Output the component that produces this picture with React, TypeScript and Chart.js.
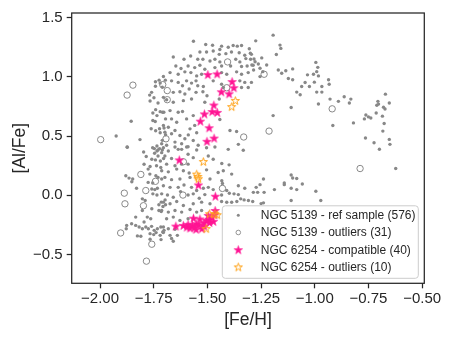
import React, { useEffect, useRef } from 'react';
import { Chart, registerables } from 'chart.js';

Chart.register(...registerables);

const xTicks = [-2.0, -1.75, -1.5, -1.25, -1.0, -0.75, -0.5];
const yTicks = [-0.5, 0.0, 0.5, 1.0, 1.5];
const xTitle = '[Fe/H]';
const yTitle = '[Al/Fe]';
const legendLabels = [
  'NGC 5139 - ref sample (576)',
  'NGC 5139 - outliers (31)',
  'NGC 6254 - compatible (40)',
  'NGC 6254 - outliers (10)',
];

// NGC 5139 reference sample ([Fe/H], [Al/Fe])
const refSample: [number, number][] = [
  [-1.742,0.958],[-1.725,0.972],[-1.72,0.947],[-1.696,0.972],[-1.742,0.92],[-1.71,0.912],[-1.76,0.869],[-1.769,0.846],[-1.749,0.824],[-1.767,0.796],[-1.73,0.779],[-1.69,0.807],[-1.741,0.723],[-1.72,0.706],[-1.703,0.701],[-1.754,0.695],[-1.735,0.673],[-1.754,0.631],[-1.743,0.623],[-1.695,0.645],[-1.855,0.625],[-1.762,0.562],[-1.741,0.545],[-1.723,0.562],[-1.702,0.568],[-1.72,0.528],[-1.695,0.511],[-1.925,0.5],[-1.814,0.47],[-1.71,0.464],[-1.735,0.416],[-1.873,0.405],[-1.747,0.394],[-1.73,0.383],[-1.71,0.383],
  [-1.874,0.408],[-1.755,0.402],[-1.735,0.374],[-1.723,0.394],[-1.797,0.366],[-1.746,0.355],[-1.713,0.36],[-1.785,0.327],[-1.73,0.332],[-1.759,0.304],[-1.742,0.299],[-1.719,0.29],[-1.704,0.31],[-1.795,0.262],[-1.767,0.243],[-1.737,0.249],[-1.717,0.235],[-1.776,0.221],[-1.88,0.165],[-1.865,0.145],[-1.848,0.137],[-1.852,0.114],[-1.768,0.179],[-1.74,0.165],[-1.73,0.151],[-1.713,0.137],[-1.776,0.109],[-1.755,0.104],[-1.83,0.059],[-1.759,0.053],[-1.745,0.048],[-1.733,0.059],[-1.754,0.012],[-1.735,0.003],[-1.697,-0.039],[-1.803,-0.03],[-1.79,-0.044],[-1.715,-0.058],[-1.726,-0.08],[-1.707,-0.095],[-1.695,-0.08],[-1.759,-0.114],[-1.726,-0.128],[-1.715,-0.137],[-1.803,-0.128],[-1.834,-0.184],[-1.78,-0.184],[-1.764,-0.198],[-1.795,-0.226],[-1.876,-0.254],[-1.853,-0.24],[-1.834,-0.254],[-1.818,-0.268],[-1.803,-0.282],[-1.787,-0.268],[-1.775,-0.282],[-1.76,-0.262],[-1.748,-0.296],[-1.733,-0.282],[-1.717,-0.268],[-1.702,-0.296],[-1.878,-0.282],[-1.826,-0.343],[-1.81,-0.346],[-1.767,-0.324],[-1.75,-0.332],[-1.739,-0.315],[-1.72,-0.338],[-1.708,-0.31],[-1.767,-0.371],[-1.716,-0.374],
  [-1.565,1.301],[-1.508,1.273],[-1.476,1.267],[-1.434,1.259],[-1.442,1.231],[-1.403,1.25],[-1.38,1.264],[-1.361,1.259],[-1.341,1.264],[-1.305,1.237],[-1.535,1.21],[-1.504,1.21],[-1.473,1.218],[-1.445,1.19],[-1.414,1.196],[-1.388,1.21],[-1.352,1.204],[-1.326,1.182],[-1.295,1.19],[-1.659,1.168],[-1.609,1.148],[-1.578,1.176],[-1.545,1.148],[-1.521,1.148],[-1.488,1.134],[-1.465,1.148],[-1.442,1.126],[-1.368,1.148],[-1.349,1.126],[-1.321,1.154],[-1.299,1.148],[-1.647,1.092],[-1.623,1.07],[-1.59,1.092],[-1.559,1.078],[-1.535,1.098],[-1.512,1.064],[-1.465,1.078],[-1.434,1.092],[-1.392,1.092],[-1.341,1.087],[-1.315,1.092],[-1.287,1.098],[-1.705,1.003],[-1.674,1.036],[-1.636,1.022],[-1.605,1.042],[-1.577,1.036],[-1.55,1.008],[-1.527,1.022],[-1.434,1.036],[-1.41,1.022],[-1.364,1.042],[-1.341,1.022],[-1.31,1.036],[-1.667,0.966],[-1.636,0.953],[-1.616,0.925],[-1.597,0.966],[-1.574,0.947],[-1.553,0.966],[-1.545,0.925],[-1.519,0.919],[-1.473,0.966],[-1.434,0.938],[-1.349,0.966],[-1.326,0.953],[-1.295,0.953],[-1.659,0.869],[-1.628,0.874],[-1.605,0.855],[-1.585,0.897],[-1.553,0.869],[-1.521,0.874],[-1.502,0.841],[-1.426,0.91],[-1.341,0.91],[-1.31,0.91],[-1.705,0.827],[-1.659,0.785],[-1.612,0.799],[-1.574,0.813],[-1.512,0.785],[-1.445,0.813],[-1.709,0.701],[-1.674,0.715],[-1.636,0.701],[-1.616,0.707],[-1.667,0.645],[-1.643,0.617],[-1.597,0.645],[-1.566,0.673],[-1.442,0.64],[-1.705,0.59],[-1.682,0.575],[-1.651,0.547],[-1.581,0.561],[-1.559,0.59],[-1.698,0.533],[-1.667,0.519],[-1.628,0.505],[-1.589,0.51],[-1.55,0.528],[-1.395,0.547],[-1.364,0.538],[-1.713,0.435],[-1.69,0.422],[-1.651,0.449],[-1.62,0.435],[-1.597,0.408],[-1.566,0.463],[-1.543,0.422],[-1.333,0.38],[-1.636,0.388],[-1.605,0.477],
  [-1.705,0.402],[-1.682,0.374],[-1.651,0.408],[-1.62,0.388],[-1.59,0.41],[-1.55,0.383],[-1.504,0.402],[-1.465,0.408],[-1.698,0.332],[-1.667,0.31],[-1.59,0.346],[-1.566,0.318],[-1.496,0.332],[-1.473,0.304],[-1.69,0.263],[-1.651,0.249],[-1.62,0.263],[-1.59,0.263],[-1.713,0.207],[-1.682,0.198],[-1.643,0.221],[-1.612,0.207],[-1.585,0.188],[-1.504,0.215],[-1.45,0.193],[-1.698,0.151],[-1.667,0.132],[-1.628,0.137],[-1.581,0.151],[-1.488,0.137],[-1.705,0.081],[-1.674,0.067],[-1.636,0.067],[-1.609,0.087],[-1.574,0.067],[-1.55,0.04],[-1.519,0.059],[-1.496,0.067],[-1.473,0.048],[-1.713,0.012],[-1.686,0.003],[-1.659,-0.016],[-1.625,0.031],[-1.59,0.003],[-1.566,0.012],[-1.538,-0.025],[-1.512,0.006],[-1.434,0.003],[-1.705,-0.058],[-1.674,-0.072],[-1.643,-0.053],[-1.612,-0.086],[-1.566,-0.072],[-1.527,-0.058],[-1.488,-0.072],[-1.434,-0.053],[-1.713,-0.128],[-1.682,-0.142],[-1.651,-0.128],[-1.62,-0.142],[-1.581,-0.12],[-1.55,-0.142],[-1.527,-0.128],[-1.69,-0.198],[-1.659,-0.184],[-1.628,-0.212],[-1.59,-0.198],[-1.705,-0.268],[-1.682,-0.282],[-1.651,-0.287],[-1.705,-0.315],[-1.674,-0.338],[-1.667,-0.365],[-1.64,-0.338],[-1.659,-0.388],
  [-1.403,0.388],[-1.356,0.081],[-1.326,0.059],[-1.41,0.04],
  [-1.275,1.304],[-1.194,1.352],[-1.162,1.268],[-1.158,1.24],[-1.179,1.189],[-1.30,1.20],[-1.283,1.151],[-1.278,1.128],[-1.263,1.108],[-1.247,1.16],[-1.293,1.10],[-1.285,1.058],[-1.255,1.072],[-1.242,1.044],[-1.255,1.002],[-1.224,1.10],[-1.17,1.058],[-1.154,1.03],[-1.135,1.052],[-1.103,1.067],[-1.123,0.986],[-1.103,0.975],[-1.084,0.871],[-1.068,0.849],[-1.061,0.919],[-1.045,0.952],[-1.025,0.919],[-1.034,1.017],[-1.006,1.022],[-0.995,1.122],[-0.986,1.08],[-0.991,1.044],[-0.983,1.008],[-1.002,0.955],[-0.991,0.871],[-0.967,0.919],[-0.967,0.871],[-0.936,0.975],[-0.933,0.938],[-0.983,0.771],[-0.929,0.812],[-0.89,0.793],[-0.863,0.832],[-0.839,0.779],[-0.832,0.812],[-1.11,0.741],[-1.194,0.673],[-0.916,0.589],[-0.82,0.611],[-0.769,0.645],[-0.762,0.678],[-0.75,0.662],[-0.739,0.653],[-0.714,0.695],[-0.711,0.76],[-0.706,0.793],[-0.703,0.77],[-0.68,0.743],[-0.673,0.729],[-0.671,0.854],[-0.653,0.779],[-0.685,0.668],[-0.677,0.606],[-0.683,0.542],[-0.764,0.484],[-0.724,0.444],[-0.699,0.389],[-0.653,0.472],[-0.65,0.43],
  [-1.356,0.43],[-0.623,0.226],[-1.433,0.268],[-1.399,0.257],[-1.426,0.207],[-1.387,0.179],[-1.239,0.137],[-1.11,0.171],[-1.103,0.146],[-1.084,0.142],[-1.142,0.104],[-1.142,0.09],[-1.058,0.095],[-1.255,0.09],[-1.273,0.067],[-1.266,0.025],[-1.286,0.025],[-1.236,0.025],[-1.188,0.048],[-1.11,0.059],[-1.084,0.048],[-0.995,0.034],[-0.972,-0.044],[-1.11,-0.044],[-1.239,-0.064],[-1.25,-0.07],[-1.289,-0.053],[-1.309,-0.044],[-1.329,-0.039],[-1.345,-0.03],[-1.363,-0.053],[-1.387,-0.059],[-1.41,-0.059],[-1.376,0.012],[-1.356,0.006],[-1.398,0.017],[-1.433,0.123],[-1.43,0.10],
];

// NGC 5139 outliers
const refOutliers: [number, number][] = [
  [-1.847,0.93],[-1.874,0.846],[-1.997,0.47],[-1.708,0.934],[-1.687,0.884],[-1.687,0.807],[-1.693,0.477],
  [-1.406,1.126],[-1.236,1.022],[-1.41,0.908],[-0.919,0.73],[-1.213,0.542],[-1.331,0.492],[-0.789,0.226],
  [-1.81,0.176],[-1.742,0.118],[-1.887,0.018],[-1.787,0.04],[-1.884,-0.072],[-1.798,-0.088],
  [-1.904,-0.318],[-1.759,-0.413],[-1.784,-0.556],[-1.612,0.283],[-1.43,0.058],[-1.614,0.002],
];

// NGC 6254 compatible stars
const compatible: [number, number][] = [
  [-1.498,1.019],[-1.455,1.025],[-1.385,0.96],[-1.377,0.908],[-1.435,0.874],[-1.399,0.857],[-1.47,0.762],
  [-1.478,0.707],[-1.454,0.70],[-1.514,0.687],[-1.533,0.626],[-1.492,0.57],[-1.502,0.456],[-1.469,0.483],
  [-1.631,0.299],[-1.542,0.087],[-1.463,-0.008],
  [-1.647,-0.26],[-1.612,-0.254],[-1.596,-0.268],[-1.581,-0.276],[-1.565,-0.193],[-1.553,-0.287],[-1.539,-0.248],
  [-1.526,-0.281],[-1.516,-0.231],[-1.503,-0.212],[-1.491,-0.204],[-1.48,-0.184],[-1.467,-0.164],[-1.472,-0.22],
  [-1.49,-0.23],[-1.55,-0.24],[-1.57,-0.25],[-1.59,-0.245],[-1.535,-0.20],[-1.496,-0.17],[-1.464,-0.128],
  [-1.515,-0.26],[-1.56,-0.27],
];

// NGC 6254 outliers
const outliers6254: [number, number][] = [
  [-1.37,0.80],[-1.387,0.749],[-1.519,0.285],[-1.55,0.179],[-1.545,0.159],[-1.542,0.14],
  [-1.49,-0.156],[-1.465,-0.156],[-1.454,-0.164],[-1.506,-0.281],
];

const GRAY = '#888888';
const PINK = '#ff1493';
const ORANGE = '#ffa31a';
const INK = '#262626';
const FONT = '"Liberation Sans", Arial, Helvetica, sans-serif';

function makeStar(r: number, fill: string | null, stroke: string | null, lw: number): HTMLCanvasElement {
  const size = Math.ceil(2 * r + 2 * lw + 2);
  const c = document.createElement('canvas');
  c.width = size;
  c.height = size;
  const ctx = c.getContext('2d')!;
  const cx = size / 2;
  const cy = size / 2 + r * 0.1;
  ctx.beginPath();
  for (let i = 0; i < 10; i++) {
    const ang = -Math.PI / 2 + (i * Math.PI) / 5;
    const rr = i % 2 === 0 ? r : r * 0.382;
    const px = cx + rr * Math.cos(ang);
    const py = cy + rr * Math.sin(ang);
    if (i === 0) ctx.moveTo(px, py);
    else ctx.lineTo(px, py);
  }
  ctx.closePath();
  if (fill) {
    ctx.fillStyle = fill;
    ctx.fill();
  }
  if (stroke) {
    ctx.strokeStyle = stroke;
    ctx.lineWidth = lw;
    ctx.lineJoin = 'miter';
    ctx.stroke();
  }
  return c;
}

const fmt = (v: number, d: number) => {
  const s = Math.abs(v).toFixed(d);
  return v < -1e-9 ? '\u2212' + s : s;
};

export default function App() {
  const ref = useRef<HTMLCanvasElement | null>(null);

  useEffect(() => {
    if (!ref.current) return;
    const pinkStar = makeStar(4.5, PINK, PINK, 0.6);
    const orangeStar = makeStar(4.3, null, ORANGE, 1.0);

    const framePlugin = {
      id: 'frameAndLegend',
      afterDraw(chart: any) {
        const { ctx, chartArea } = chart;
        const { left, right, top, bottom } = chartArea;
        ctx.save();
        ctx.strokeStyle = INK;
        ctx.lineWidth = 1.25;
        ctx.strokeRect(left, top, right - left, bottom - top);

        // legend box
        const bx = right - 202;
        const bw = 196;
        const by = bottom - 77.5;
        const bh = 72.5;
        const rad = 3;
        ctx.beginPath();
        ctx.moveTo(bx + rad, by);
        ctx.lineTo(bx + bw - rad, by);
        ctx.quadraticCurveTo(bx + bw, by, bx + bw, by + rad);
        ctx.lineTo(bx + bw, by + bh - rad);
        ctx.quadraticCurveTo(bx + bw, by + bh, bx + bw - rad, by + bh);
        ctx.lineTo(bx + rad, by + bh);
        ctx.quadraticCurveTo(bx, by + bh, bx, by + bh - rad);
        ctx.lineTo(bx, by + rad);
        ctx.quadraticCurveTo(bx, by, bx + rad, by);
        ctx.closePath();
        ctx.fillStyle = 'rgba(255,255,255,0.8)';
        ctx.fill();
        ctx.strokeStyle = '#cccccc';
        ctx.lineWidth = 1;
        ctx.stroke();

        const mx = bx + 16;
        const tx = bx + 38.5;
        ctx.font = '12px ' + FONT;
        ctx.textBaseline = 'middle';
        ctx.textAlign = 'left';
        legendLabels.forEach((label, i) => {
          const y = by + 9.5 + i * 17.2;
          if (i === 0) {
            ctx.beginPath();
            ctx.arc(mx, y, 1.5, 0, Math.PI * 2);
            ctx.fillStyle = GRAY;
            ctx.fill();
          } else if (i === 1) {
            ctx.beginPath();
            ctx.arc(mx, y, 2.3, 0, Math.PI * 2);
            ctx.strokeStyle = GRAY;
            ctx.lineWidth = 0.9;
            ctx.stroke();
          } else if (i === 2) {
            ctx.drawImage(pinkStar, mx - pinkStar.width / 2, y - pinkStar.height / 2);
          } else {
            ctx.drawImage(orangeStar, mx - orangeStar.width / 2, y - orangeStar.height / 2);
          }
          ctx.fillStyle = INK;
          ctx.fillText(label, tx, y + 0.5);
        });
        ctx.restore();
      },
    };

    const chart = new Chart(ref.current, {
      type: 'scatter',
      data: {
        datasets: [
          {
            label: legendLabels[0],
            data: refSample.map(([x, y]) => ({ x, y })),
            pointRadius: 1.7,
            pointBorderWidth: 0,
            backgroundColor: GRAY,
            borderColor: GRAY,
            order: 4,
          },
          {
            label: legendLabels[1],
            data: refOutliers.map(([x, y]) => ({ x, y })),
            pointRadius: 3.2,
            pointBorderWidth: 1,
            backgroundColor: 'rgba(0,0,0,0)',
            borderColor: GRAY,
            order: 3,
          },
          {
            label: legendLabels[2],
            data: compatible.map(([x, y]) => ({ x, y })),
            pointStyle: pinkStar as any,
            pointRadius: 4,
            order: 2,
          },
          {
            label: legendLabels[3],
            data: outliers6254.map(([x, y]) => ({ x, y })),
            pointStyle: orangeStar as any,
            pointRadius: 4,
            order: 1,
          },
        ],
      },
      options: {
        responsive: false,
        devicePixelRatio: 1,
        animation: false,
        events: [],
        layout: { padding: { left: 0, right: 30.7, top: 11, bottom: 0 } },
        plugins: { legend: { display: false }, tooltip: { enabled: false } },
        scales: {
          x: {
            type: 'linear',
            min: -2.132,
            max: -0.49,
            afterFit: (s: any) => {
              s.height = 57.7;
            },
            afterBuildTicks: (s: any) => {
              s.ticks = xTicks.map((v) => ({ value: v }));
            },
            border: { display: false },
            grid: {
              display: true,
              drawOnChartArea: false,
              drawTicks: true,
              tickLength: 5,
              tickColor: INK,
              tickWidth: 1.25,
            },
            ticks: {
              padding: 2,
              color: INK,
              font: { family: FONT, size: 15 },
              maxRotation: 0,
              callback: (v: any) => fmt(Number(v), 2),
            },
            title: {
              display: true,
              text: xTitle,
              color: INK,
              font: { family: FONT, size: 17.5 },
              padding: { top: 0, bottom: 10 },
            },
          },
          y: {
            type: 'linear',
            min: -0.743,
            max: 1.539,
            afterFit: (s: any) => {
              s.width = 71.7;
            },
            afterBuildTicks: (s: any) => {
              s.ticks = yTicks.map((v) => ({ value: v }));
            },
            border: { display: false },
            grid: {
              display: true,
              drawOnChartArea: false,
              drawTicks: true,
              tickLength: 5,
              tickColor: INK,
              tickWidth: 1.25,
            },
            ticks: {
              padding: 4,
              color: INK,
              font: { family: FONT, size: 15 },
              callback: (v: any) => fmt(Number(v), 1),
            },
            title: {
              display: true,
              text: yTitle,
              color: INK,
              font: { family: FONT, size: 17.5 },
              padding: { top: 10, bottom: 0 },
            },
          },
        },
      },
      plugins: [framePlugin],
    } as any);

    return () => chart.destroy();
  }, []);

  return (
    <div style={{ position: 'absolute', left: 0, top: 0, width: 455, height: 341, background: '#ffffff' }}>
      <canvas ref={ref} width={455} height={341} style={{ display: 'block', width: 455, height: 341 }} />
    </div>
  );
}
